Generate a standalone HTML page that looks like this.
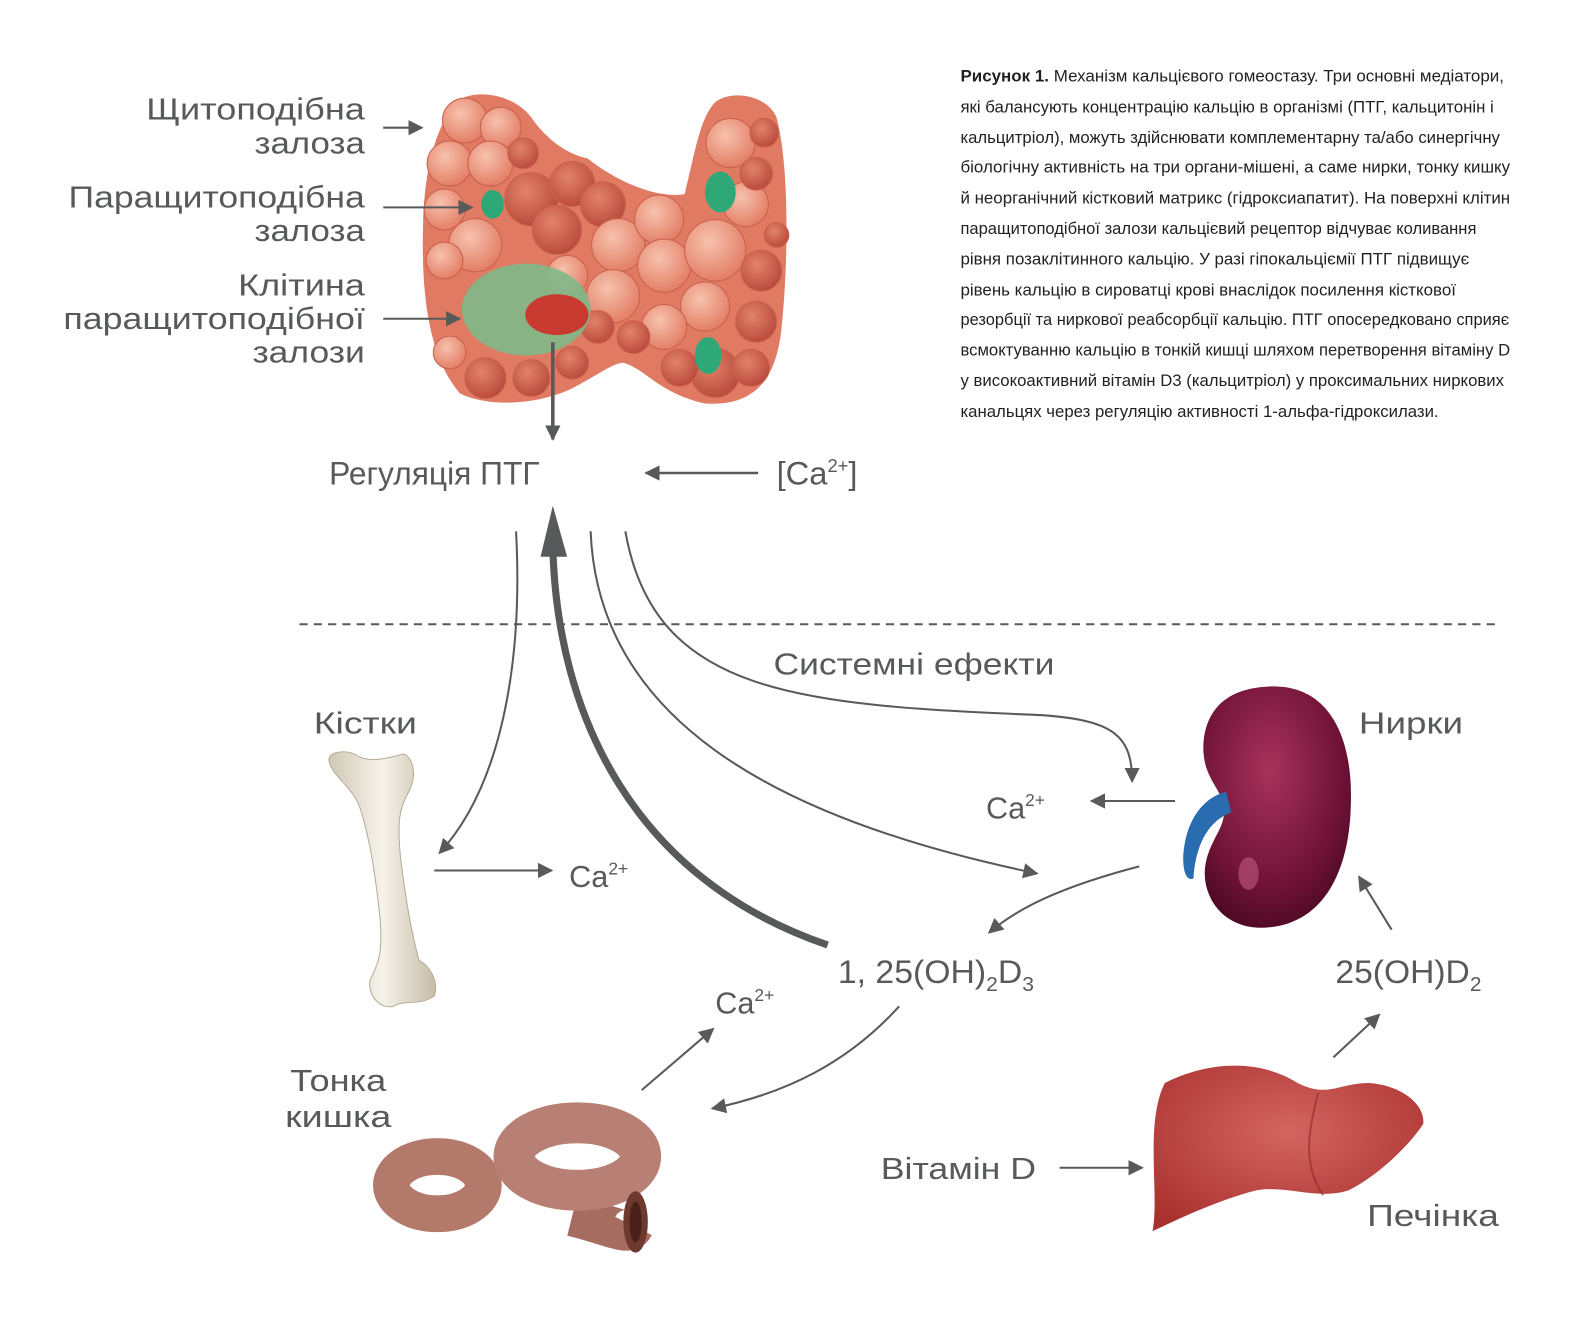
<!DOCTYPE html>
<html><head><meta charset="utf-8"><style>
html,body{margin:0;padding:0;background:#fff;}
svg{display:block}
text{font-family:"Liberation Sans",sans-serif;fill:#58595b;}
.cap{font-size:16.5px;fill:#231f20;}
.lbl{font-size:30px;}
.b{font-weight:bold}
</style></head><body>
<svg width="1594" height="1320" viewBox="0 0 1560 1292" xmlns="http://www.w3.org/2000/svg">
<defs>
<marker id="ah" viewBox="0 0 10 10" refX="9" refY="5" markerWidth="10" markerHeight="10" markerUnits="userSpaceOnUse" orient="auto"><path d="M0,0L10,5L0,10z" fill="#58595b"/></marker>
<marker id="ah3" viewBox="0 0 10 10" refX="9" refY="5" markerWidth="15" markerHeight="15" markerUnits="userSpaceOnUse" orient="auto"><path d="M0,0L10,5L0,10z" fill="#58595b"/></marker>
<radialGradient id="cell" cx="0.4" cy="0.35" r="0.7"><stop offset="0" stop-color="#f7c2ad"/><stop offset="1" stop-color="#e27a62"/></radialGradient>
<radialGradient id="cellD" cx="0.4" cy="0.35" r="0.7"><stop offset="0" stop-color="#e2826a"/><stop offset="1" stop-color="#b8483a"/></radialGradient>
<radialGradient id="kid" cx="0.45" cy="0.35" r="0.7"><stop offset="0" stop-color="#a8325a"/><stop offset="0.7" stop-color="#6e1236"/><stop offset="1" stop-color="#4a0822"/></radialGradient>
<radialGradient id="liv" cx="0.5" cy="0.4" r="0.7"><stop offset="0" stop-color="#d46560"/><stop offset="1" stop-color="#a8302e"/></radialGradient>
<linearGradient id="bone" x1="0" x2="1"><stop offset="0" stop-color="#cfc8b6"/><stop offset="0.5" stop-color="#f6f3ea"/><stop offset="1" stop-color="#c6bda8"/></linearGradient>
</defs>

<!-- caption -->
<text class="cap" x="940" y="80" textLength="532" lengthAdjust="spacingAndGlyphs"><tspan class="b">Рисунок 1.</tspan>  Механізм кальцієвого гомеостазу. Три основні медіатори,</text>
<text class="cap" x="940" y="110" textLength="522" lengthAdjust="spacingAndGlyphs">які балансують концентрацію кальцію в організмі (ПТГ, кальцитонін і</text>
<text class="cap" x="940" y="140" textLength="528" lengthAdjust="spacingAndGlyphs">кальцитріол), можуть здійснювати комплементарну та/або синергічну</text>
<text class="cap" x="940" y="169" textLength="538" lengthAdjust="spacingAndGlyphs">біологічну активність на три органи-мішені, а саме нирки, тонку кишку</text>
<text class="cap" x="940" y="199" textLength="538" lengthAdjust="spacingAndGlyphs">й неорганічний кістковий матрикс (гідроксиапатит). На поверхні клітин</text>
<text class="cap" x="940" y="229" textLength="505" lengthAdjust="spacingAndGlyphs">паращитоподібної залози кальцієвий рецептор відчуває коливання</text>
<text class="cap" x="940" y="259" textLength="498" lengthAdjust="spacingAndGlyphs">рівня позаклітинного кальцію. У разі гіпокальціємії ПТГ підвищує</text>
<text class="cap" x="940" y="289" textLength="485" lengthAdjust="spacingAndGlyphs">рівень кальцію в сироватці крові внаслідок посилення кісткової</text>
<text class="cap" x="940" y="318" textLength="537" lengthAdjust="spacingAndGlyphs">резорбції та ниркової реабсорбції кальцію. ПТГ опосередковано сприяє</text>
<text class="cap" x="940" y="348" textLength="538" lengthAdjust="spacingAndGlyphs">всмоктуванню кальцію в тонкій кишці шляхом перетворення вітаміну D</text>
<text class="cap" x="940" y="378" textLength="532" lengthAdjust="spacingAndGlyphs">у високоактивний вітамін D3 (кальцитріол) у проксимальних ниркових</text>
<text class="cap" x="940" y="408" textLength="468" lengthAdjust="spacingAndGlyphs">канальцях через регуляцію активності 1-альфа-гідроксилази.</text>

<!-- thyroid labels -->
<text class="lbl" x="357" y="117" text-anchor="end" textLength="214" lengthAdjust="spacingAndGlyphs">Щитоподібна</text>
<text class="lbl" x="357" y="150" text-anchor="end" textLength="108" lengthAdjust="spacingAndGlyphs">залоза</text>
<text class="lbl" x="357" y="203" text-anchor="end" textLength="290" lengthAdjust="spacingAndGlyphs">Паращитоподібна</text>
<text class="lbl" x="357" y="236" text-anchor="end" textLength="108" lengthAdjust="spacingAndGlyphs">залоза</text>
<text class="lbl" x="357" y="289" text-anchor="end" textLength="124" lengthAdjust="spacingAndGlyphs">Клітина</text>
<text class="lbl" x="357" y="322" text-anchor="end" textLength="295" lengthAdjust="spacingAndGlyphs">паращитоподібної</text>
<text class="lbl" x="357" y="355" text-anchor="end" textLength="110" lengthAdjust="spacingAndGlyphs">залози</text>

<!-- thyroid -->
<path d="M455,95 C430,110 415,160 414,220 C412,290 420,350 450,385 C480,400 530,395 560,380 C580,370 600,355 610,355 C630,360 645,385 690,395 C740,398 760,370 765,320 C772,250 772,160 760,115 C750,92 715,88 700,100 C685,115 680,150 670,190 C640,195 600,175 575,155 C550,150 530,130 520,115 C505,95 475,88 455,95 Z" fill="#e07a62"/>
<g stroke="#c9604c" stroke-width="1">
<circle cx="455" cy="118" r="22" fill="url(#cell)"/><circle cx="490" cy="125" r="20" fill="url(#cell)"/>
<circle cx="440" cy="160" r="22" fill="url(#cell)"/><circle cx="480" cy="160" r="22" fill="url(#cell)"/>
<circle cx="512" cy="150" r="15" fill="url(#cellD)"/><circle cx="435" cy="205" r="20" fill="url(#cell)"/>
<circle cx="465" cy="240" r="26" fill="url(#cell)"/><circle cx="435" cy="255" r="18" fill="url(#cell)"/>
<circle cx="520" cy="195" r="26" fill="url(#cellD)"/><circle cx="560" cy="180" r="22" fill="url(#cellD)"/>
<circle cx="545" cy="225" r="24" fill="url(#cellD)"/><circle cx="590" cy="200" r="22" fill="url(#cellD)"/>
<circle cx="605" cy="240" r="26" fill="url(#cell)"/><circle cx="645" cy="215" r="24" fill="url(#cell)"/>
<circle cx="650" cy="260" r="26" fill="url(#cell)"/><circle cx="600" cy="290" r="26" fill="url(#cell)"/>
<circle cx="700" cy="245" r="30" fill="url(#cell)"/><circle cx="730" cy="200" r="22" fill="url(#cell)"/>
<circle cx="715" cy="140" r="24" fill="url(#cell)"/><circle cx="748" cy="130" r="14" fill="url(#cellD)"/>
<circle cx="745" cy="265" r="20" fill="url(#cellD)"/><circle cx="690" cy="300" r="24" fill="url(#cell)"/>
<circle cx="740" cy="315" r="20" fill="url(#cellD)"/><circle cx="650" cy="320" r="22" fill="url(#cell)"/>
<circle cx="700" cy="365" r="24" fill="url(#cellD)"/><circle cx="665" cy="360" r="18" fill="url(#cellD)"/>
<circle cx="735" cy="360" r="18" fill="url(#cellD)"/><circle cx="620" cy="330" r="16" fill="url(#cellD)"/>
<circle cx="475" cy="370" r="20" fill="url(#cellD)"/><circle cx="440" cy="345" r="16" fill="url(#cell)"/>
<circle cx="520" cy="370" r="18" fill="url(#cellD)"/><circle cx="560" cy="355" r="16" fill="url(#cellD)"/>
<circle cx="585" cy="320" r="16" fill="url(#cellD)"/><circle cx="555" cy="270" r="20" fill="url(#cell)"/>
<circle cx="740" cy="170" r="16" fill="url(#cellD)"/><circle cx="760" cy="230" r="12" fill="url(#cellD)"/>
</g>
<ellipse cx="515" cy="303" rx="63" ry="45" fill="#7fb98a" opacity="0.9"/>
<ellipse cx="545" cy="308" rx="31" ry="20" fill="#c8392f"/>
<ellipse cx="482" cy="200" rx="11" ry="14" fill="#2fa877"/>
<ellipse cx="705" cy="188" rx="15" ry="20" fill="#2fa877"/>
<ellipse cx="693" cy="348" rx="13" ry="18" fill="#2fa877"/>
<g stroke="#58595b" stroke-width="2" fill="none">
<line x1="375" y1="125" x2="413" y2="125" marker-end="url(#ah3)"/>
<line x1="375" y1="203" x2="462" y2="203" marker-end="url(#ah3)"/>
<line x1="375" y1="312" x2="450" y2="312" marker-end="url(#ah3)"/>
</g>
<line x1="541" y1="335" x2="541" y2="430" stroke="#58595b" stroke-width="3.5" marker-end="url(#ah3)"/>

<!-- regulation -->
<text class="lbl" x="322" y="474" textLength="206" lengthAdjust="spacingAndGlyphs" style="font-size:32px">Регуляція ПТГ</text>
<line x1="742" y1="463" x2="632" y2="463" stroke="#58595b" stroke-width="2.5" marker-end="url(#ah3)"/>
<text class="lbl" x="760" y="474" style="font-size:32px">[Ca<tspan dy="-12" style="font-size:18px">2+</tspan><tspan dy="12">]</tspan></text>

<line x1="293" y1="611" x2="1465" y2="611" stroke="#58595b" stroke-width="2" stroke-dasharray="8,6"/>
<text class="lbl" x="757" y="660" textLength="275" lengthAdjust="spacingAndGlyphs">Системні ефекти</text>

<!-- connectors -->
<g stroke="#58595b" fill="none" stroke-width="2">
<path d="M505,520 C512,650 490,770 430,835" marker-end="url(#ah3)"/>
<path d="M578,520 C585,700 750,800 1015,855" marker-end="url(#ah3)"/>
<path d="M612,520 C640,680 780,690 1020,700 C1090,705 1108,720 1108,765" marker-end="url(#ah3)"/>
<line x1="425" y1="852" x2="540" y2="852" marker-end="url(#ah3)"/>
<line x1="1150" y1="784" x2="1068" y2="784" marker-end="url(#ah3)"/>
<path d="M1115,848 C1050,865 1000,885 968,913" marker-end="url(#ah3)"/>
<line x1="1362" y1="910" x2="1330" y2="858" marker-end="url(#ah3)"/>
<line x1="1305" y1="1035" x2="1350" y2="993" marker-end="url(#ah3)"/>
<line x1="1037" y1="1143" x2="1118" y2="1143" marker-end="url(#ah3)"/>
<line x1="628" y1="1067" x2="698" y2="1007" marker-end="url(#ah3)"/>
<path d="M880,985 C830,1040 770,1070 697,1085" marker-end="url(#ah3)"/>
</g>
<path d="M810,925 C620,860 545,700 541,535" stroke="#58595b" stroke-width="7" fill="none"/>
<path d="M529,545 L541,495 L555,545 Z" fill="#58595b"/>

<!-- labels lower -->
<text class="lbl" x="307" y="718" textLength="101" lengthAdjust="spacingAndGlyphs">Кістки</text>
<text class="lbl" x="1330" y="718" textLength="102" lengthAdjust="spacingAndGlyphs">Нирки</text>
<text class="lbl" x="557" y="868">Ca<tspan dy="-12" style="font-size:17px">2+</tspan></text>
<text class="lbl" x="965" y="801">Ca<tspan dy="-12" style="font-size:17px">2+</tspan></text>
<text class="lbl" x="700" y="992">Ca<tspan dy="-12" style="font-size:17px">2+</tspan></text>
<text class="lbl" x="820" y="962" style="font-size:32px" textLength="192" lengthAdjust="spacingAndGlyphs">1, 25(OH)<tspan dy="8" style="font-size:20px">2</tspan><tspan dy="-8">D</tspan><tspan dy="8" style="font-size:20px">3</tspan></text>
<text class="lbl" x="1307" y="962" style="font-size:32px" textLength="143" lengthAdjust="spacingAndGlyphs">25(OH)D<tspan dy="8" style="font-size:20px">2</tspan></text>
<text class="lbl" x="284" y="1068" textLength="94" lengthAdjust="spacingAndGlyphs">Тонка</text>
<text class="lbl" x="279" y="1103" textLength="104" lengthAdjust="spacingAndGlyphs">кишка</text>
<text class="lbl" x="862" y="1154" textLength="152" lengthAdjust="spacingAndGlyphs">Вітамін D</text>
<text class="lbl" x="1338" y="1200" textLength="129" lengthAdjust="spacingAndGlyphs">Печінка</text>

<!-- bone -->
<path d="M322,745 C320,735 340,733 350,740 C365,748 385,740 395,738 C405,742 408,760 400,775 C392,790 388,800 392,840 C397,880 402,910 410,940 C420,945 430,960 425,975 C410,985 395,978 385,985 C372,988 360,975 362,960 C368,945 375,940 372,900 C368,860 362,820 352,790 C345,770 325,760 322,745 Z" fill="url(#bone)" stroke="#b5ac98" stroke-width="1"/>

<!-- kidney -->
<path d="M1240,672 C1300,668 1325,720 1322,790 C1320,860 1290,910 1230,908 C1190,905 1175,870 1180,845 C1185,820 1200,810 1198,790 C1195,770 1175,760 1178,725 C1182,690 1205,674 1240,672 Z" fill="url(#kid)"/>
<path d="M1200,775 C1180,780 1160,800 1158,840 C1158,855 1162,862 1168,860 C1170,830 1180,805 1205,795 Z" fill="#2a6cb0"/>
<ellipse cx="1222" cy="855" rx="10" ry="16" fill="#c25a80" opacity="0.6"/>

<!-- liver -->
<path d="M1140,1060 C1180,1040 1230,1035 1270,1060 C1300,1075 1310,1060 1340,1060 C1370,1062 1395,1080 1393,1100 C1380,1120 1350,1150 1320,1165 C1290,1175 1260,1160 1230,1165 C1190,1175 1150,1195 1128,1205 C1135,1170 1120,1100 1140,1060 Z" fill="url(#liv)"/>
<path d="M1290,1070 C1280,1110 1275,1140 1295,1170" stroke="#8f2828" stroke-width="2" fill="none" opacity="0.6"/>

<!-- intestine -->
<g fill="none">
<ellipse cx="428" cy="1160" rx="45" ry="28" stroke="#b37a6c" stroke-width="36"/>
<path d="M560,1190 C600,1200 615,1210 620,1200" stroke="#a66c60" stroke-width="40"/>
<ellipse cx="565" cy="1132" rx="62" ry="33" stroke="#b88074" stroke-width="40"/>
</g>
<ellipse cx="622" cy="1196" rx="12" ry="30" fill="#6e3a30"/>
<ellipse cx="622" cy="1196" rx="6" ry="20" fill="#4a2018"/>
</svg>
</body></html>
